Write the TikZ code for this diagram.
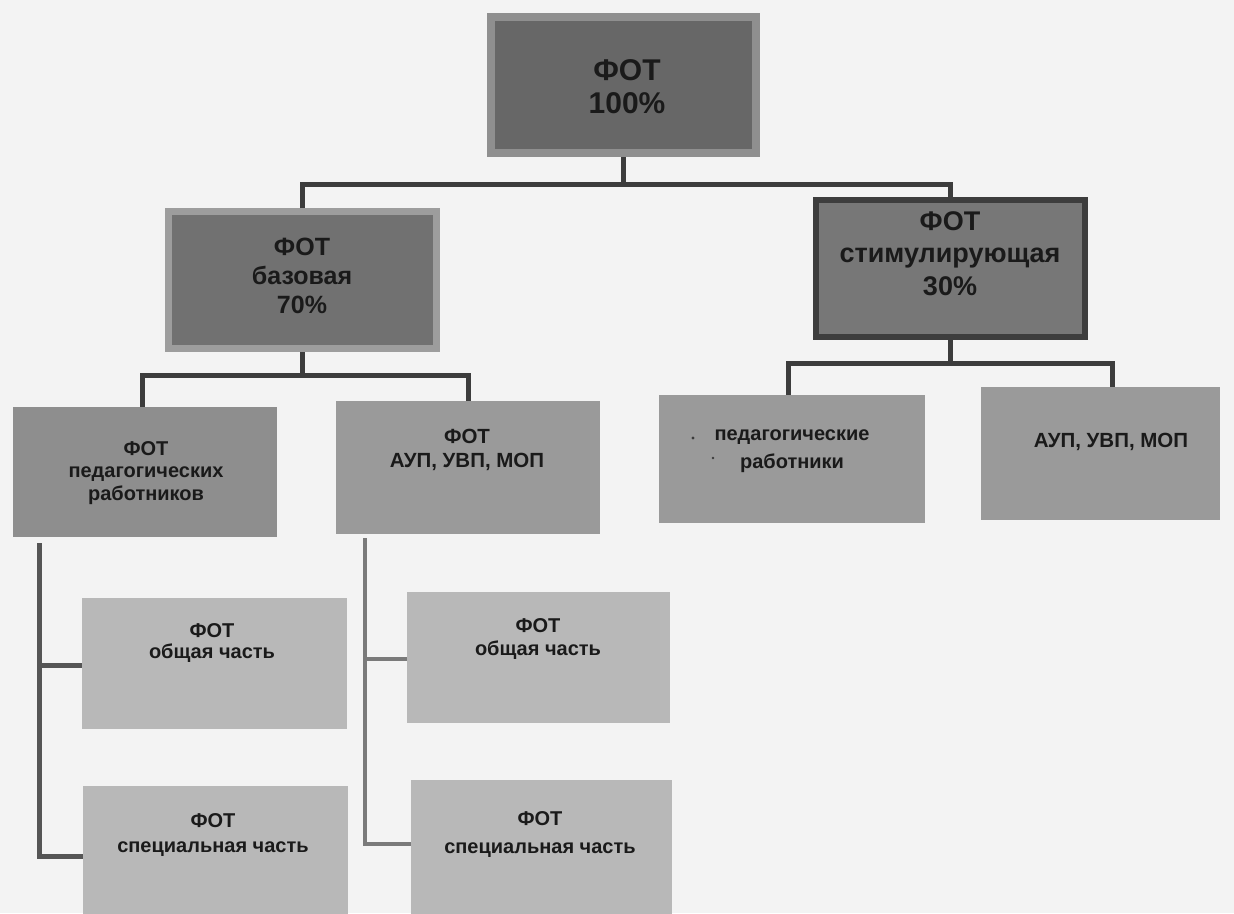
\documentclass[tikz,border=0pt]{standalone}
\usepackage{fontspec}
\setmainfont{Liberation Sans}
\definecolor{bg}{HTML}{F3F3F3}
\definecolor{ink}{HTML}{1A1A1A}
\definecolor{topfill}{HTML}{676767}
\definecolor{topedge}{HTML}{8F8F8F}
\definecolor{basefill}{HTML}{717171}
\definecolor{baseedge}{HTML}{9D9D9D}
\definecolor{stimfill}{HTML}{777777}
\definecolor{stimedge}{HTML}{3D3D3D}
\definecolor{lvlthree}{HTML}{9A9A9A}
\definecolor{pedfill}{HTML}{8E8E8E}
\definecolor{lvlfour}{HTML}{B8B8B8}
\definecolor{lineA}{HTML}{3C3C3C}
\definecolor{lineB}{HTML}{555555}
\definecolor{lineC}{HTML}{7A7A7A}
\newcommand{\fs}[2]{\fontsize{#1}{#2}\selectfont\bfseries}
\tikzset{
  box/.style={rectangle, inner sep=0pt, draw=none},
  txt/.style={inner sep=0pt, align=center, text=ink, anchor=north},
  conn/.style={draw=lineA, line width=5pt},
}
\begin{document}
\begin{tikzpicture}[x=1pt, y=-1pt]
\fill[bg] (0,0) rectangle (1234,913);
\useasboundingbox (0,0) rectangle (1234,913);

% level 1
\node[box, fill=topfill, draw=topedge, line width=8pt, minimum width=265pt, minimum height=136pt] (top) at (623.5,85) {};
\node[txt, font=\fs{30}{33}] (ttop) at (627,56.9) {\strut ФОТ\\100\%};

% level 2
\node[box, fill=basefill, draw=baseedge, line width=7pt, minimum width=268pt, minimum height=137pt] (base) at (302.5,280) {};
\node[txt, font=\fs{25}{29}] (tbase) at (302,234.7) {\strut ФОТ\\базовая\\70\%};

\node[box, fill=stimfill, draw=stimedge, line width=6pt, minimum width=269pt, minimum height=137pt] (stim) at (950.5,268.5) {};
\node[txt, font=\fs{27}{32.5}] (tstim) at (950,207.25) {\strut ФОТ\\стимулирующая\\30\%};

% level 3
\node[box, fill=pedfill, minimum width=264pt, minimum height=130pt] (ped) at (145,472) {};
\node[txt, font=\fs{20}{22.5}] (tped) at (146,439.25) {\strut ФОТ\\педагогических\\работников};

\node[box, fill=lvlthree, minimum width=264pt, minimum height=133pt] (aup) at (468,467.5) {};
\node[txt, font=\fs{20.5}{24}] (taup) at (467,426.2) {\strut ФОТ\\АУП, УВП, МОП};

\node[box, fill=lvlthree, minimum width=266pt, minimum height=128pt] (rped) at (792,459) {};
\node[txt, font=\fs{20}{28}] (trped) at (792,420.4) {\strut педагогические\\работники};
\fill[ink!85] (693,438) circle (1.6);
\fill[ink!85] (713,458) circle (1.4);

\node[box, fill=lvlthree, minimum width=239pt, minimum height=133pt] (raup) at (1100.5,453.5) {};
\node[txt, font=\fs{20.5}{24}, anchor=base] (traup) at (1111,447) {АУП, УВП, МОП};

% level 4
\node[box, fill=lvlfour, minimum width=265pt, minimum height=131pt] (lgen) at (214.5,663.5) {};
\node[txt, font=\fs{20}{20}] (tlgen) at (212,623) {\strut ФОТ\\общая часть};

\node[box, fill=lvlfour, minimum width=265pt, minimum height=140pt] (lspec) at (215.5,856) {};
\node[txt, font=\fs{20}{25}] (tlspec) at (213,809.5) {\strut ФОТ\\специальная часть};

\node[box, fill=lvlfour, minimum width=263pt, minimum height=131pt] (rgen) at (538.5,657.5) {};
\node[txt, font=\fs{20}{23}] (trgen) at (538,615.9) {\strut ФОТ\\общая часть};

\node[box, fill=lvlfour, minimum width=261pt, minimum height=150pt] (rspec) at (541.5,855) {};
\node[txt, font=\fs{20}{28}] (trspec) at (540,805.4) {\strut ФОТ\\специальная часть};

% connectors
\draw[conn] (top.south) -- ++(0,27) coordinate (j1);
\draw[conn] (base.north) |- (j1) -| (stim.north);

\draw[conn] (base.south) -- ++(0,23.5) coordinate (j2);
\draw[conn] ([xshift=-3pt]ped.north) |- (j2) -| (aup.north);

\draw[conn] (stim.south) -- ++(0,23) coordinate (j3);
\draw[conn] ([xshift=-4pt]rped.north) |- (j3) -| ([xshift=11.5pt]raup.north);

\draw[conn, draw=lineB] ([xshift=27pt, yshift=-6pt]ped.south west) |- ([yshift=-1.5pt]lgen.west);
\draw[conn, draw=lineB] ([xshift=27pt, yshift=-6pt]ped.south west) |- (lspec.west);

\draw[conn, draw=lineC, line width=4pt] ([xshift=29pt, yshift=-4pt]aup.south west) |- ([yshift=-1.5pt]rgen.west);
\draw[conn, draw=lineC, line width=4pt] ([xshift=29pt, yshift=-4pt]aup.south west) |- ([yshift=11pt]rspec.west);
\end{tikzpicture}
\end{document}
